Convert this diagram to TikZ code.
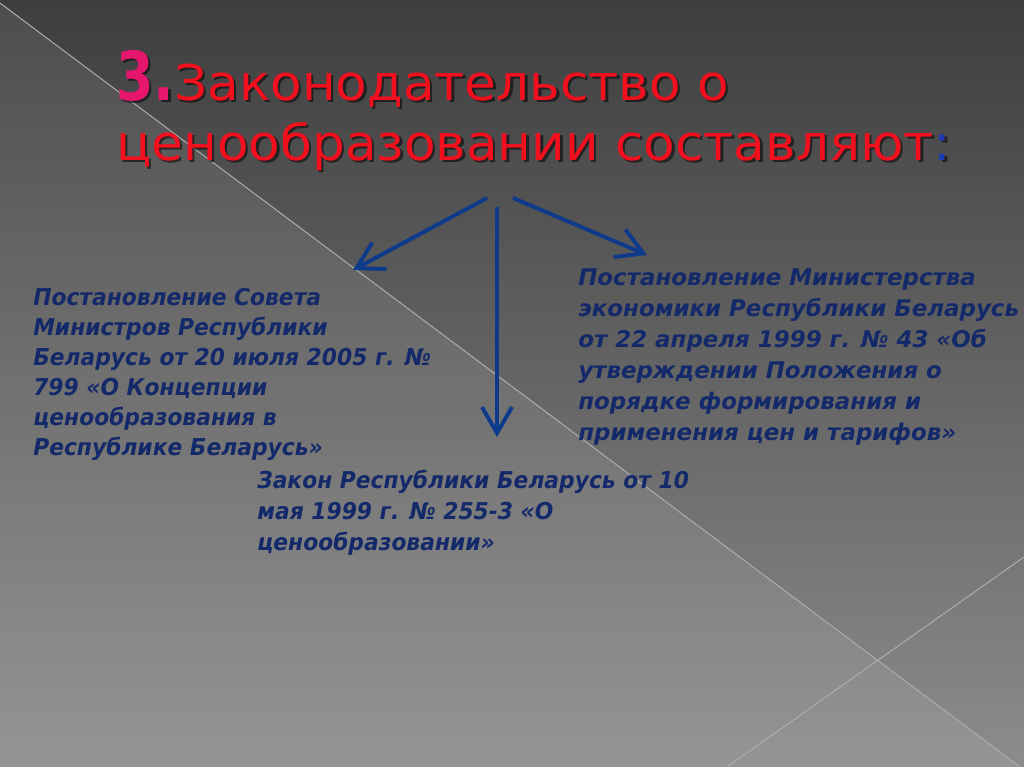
\documentclass[tikz,border=0pt]{standalone}
\usepackage{fontspec}
\setmainfont{DejaVu Sans}
\newfontfamily\titlefont[FakeStretch=1.05]{DejaVu Sans}
\newfontfamily\narrowfont[FakeStretch=0.94]{DejaVu Sans}
\newfontfamily\numfont[FakeStretch=0.8]{DejaVu Sans}
\usetikzlibrary{arrows.meta}
\definecolor{bgtop}{HTML}{3E3E3E}
\definecolor{bgbottom}{HTML}{8C8C8C}
\definecolor{titlered}{HTML}{F2101E}
\definecolor{numpink}{HTML}{E6166E}
\definecolor{colonblue}{HTML}{1E3CB4}
\definecolor{lawblue}{HTML}{13296A}
\definecolor{arrowblue}{HTML}{0D3A8A}
\newcommand\titlelines[3]{{\color{#1}\numfont\bfseries\fontsize{48}{42.5}\selectfont 3.}\color{#2}Законодательство о\\ценообразовании составляют\color{#3}:}

\begin{document}
\begin{tikzpicture}[x=0.025cm, y=-0.025cm,
    titlebox/.style={anchor=north west, inner sep=0pt, text width=24cm, align=left,
        font=\titlefont\fontsize{35}{42.5}\selectfont},
    lawbox/.style={anchor=north west, inner sep=0pt, align=left, text=lawblue,
        font=\bfseries\itshape\fontsize{16.3}{22}\selectfont},
    lawarrow/.style={draw=arrowblue, line width=2.8pt,
        -{Straight Barb[length=6.5mm, width=7.5mm]}},
    seam/.style={draw=white!68!black, line width=0.7pt}]
	%%%%% START %%%%%
	
	\useasboundingbox (0,0) rectangle (1024,767);
	\shade[top color=bgtop, bottom color=bgbottom] (0,0) rectangle (1024,767);
	\fill[white, opacity=0.08] (0,3) -- (1024,770) -- (0,767) -- cycle;
	\draw[seam] (0,3) -- (1024,770);
	\draw[seam] (1024,557) -- (727,767);
	
	% title with its shadow
	\node[titlebox, text=black, opacity=0.55] (titleshadow) at (118.5,52.5) {\titlelines{black}{black}{black}};
	\node[titlebox] (title) at (116,50) {\titlelines{numpink}{titlered}{colonblue}};
	
	% three acts
	\node[lawbox, font=\narrowfont\bfseries\itshape\fontsize{16.5}{21.3}\selectfont] (council) at (33,288)
	    {Постановление Совета\\Министров Республики\\Беларусь от 20 июля 2005 г. №\\799 «О Концепции\\ценообразования в\\Республике Беларусь»};
	\node[lawbox] (ministry) at (578,269)
	    {Постановление Министерства\\экономики Республики Беларусь\\от 22 апреля 1999 г. № 43 «Об\\утверждении Положения о\\порядке формирования и\\применения цен и тарифов»};
	\node[lawbox, font=\narrowfont\bfseries\itshape\fontsize{16.5}{22}\selectfont] (law) at (257,470)
	    {Закон Республики Беларусь от 10\\мая 1999 г. № 255-3 «О\\ценообразовании»};
	
	% arrows
	\coordinate (leftfrom) at (487,198);
	\coordinate (lefttip) at (353,270);
	\coordinate (midfrom) at (497,207);
	\coordinate (midtip) at (497,437);
	\coordinate (rightfrom) at (513,198);
	\coordinate (righttip) at (647,255);
	\draw[lawarrow] (leftfrom) -- (lefttip);
	\draw[lawarrow] (midfrom) -- (midtip);
	\draw[lawarrow] (rightfrom) -- (righttip);
	
	%%%%% END %%%%%
\end{tikzpicture}
\end{document}
